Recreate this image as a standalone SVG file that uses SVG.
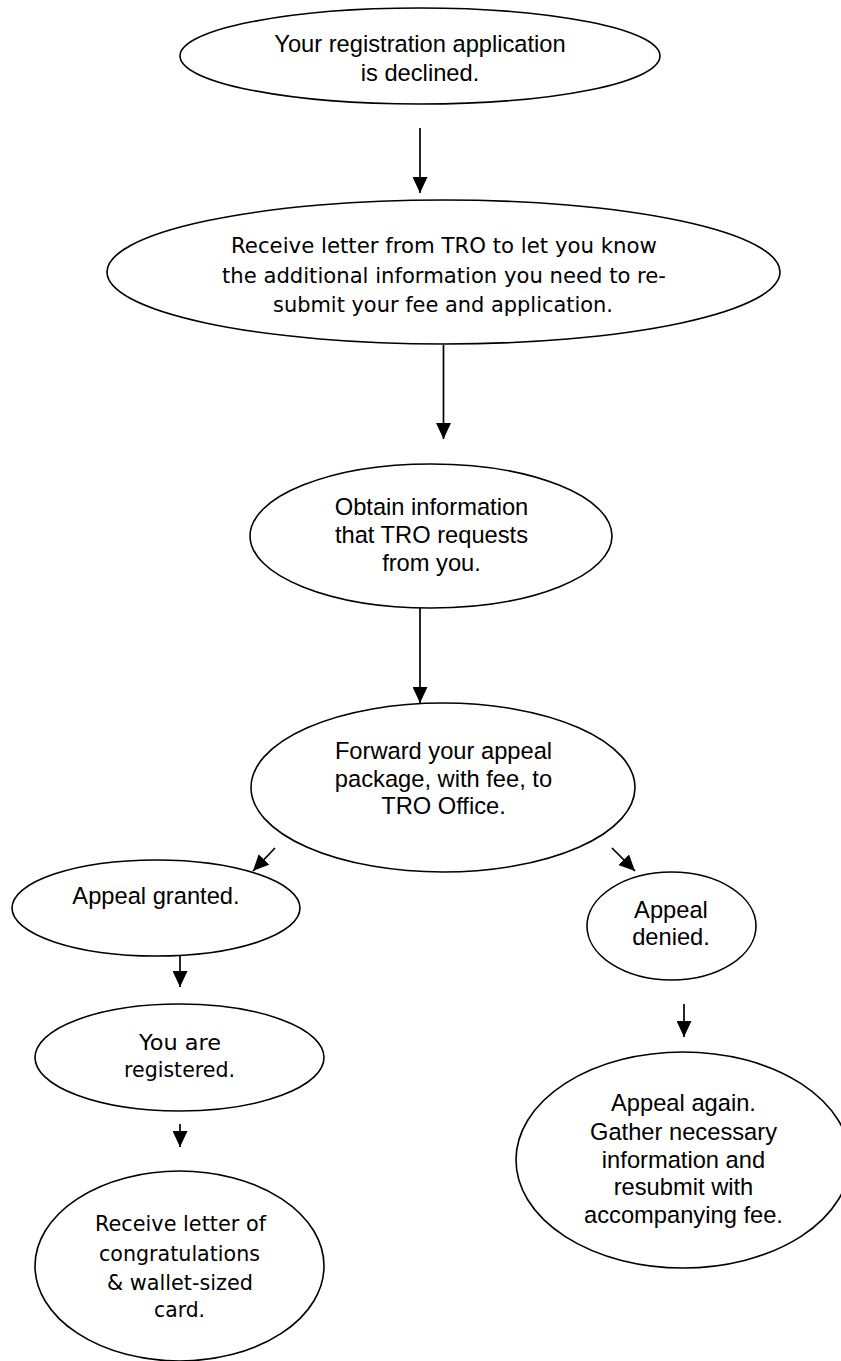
<svg xmlns="http://www.w3.org/2000/svg" width="841" height="1361" viewBox="0 0 841 1361">
<defs>
<style>
.node ellipse{fill:#fff;stroke:#000;stroke-width:1.6}
.a{font-family:"Liberation Sans",Arial,sans-serif;font-size:23.7px;fill:#000;text-anchor:middle}
.t{font-family:"DejaVu Sans",Verdana,sans-serif;font-size:22px;fill:#000;text-anchor:middle}
#connectors line{stroke:#000;stroke-width:1.7;fill:none;marker-end:url(#ah)}
</style>
<marker id="ah" markerUnits="userSpaceOnUse" markerWidth="16" markerHeight="15" refX="16" refY="7.5" orient="auto">
<path d="M0,0 L16,7.5 L0,15 z" fill="#000"/>
</marker>
</defs>
<rect width="841" height="1361" fill="#fff"/>
<g id="connectors">
<line x1="420" y1="128" x2="420" y2="193"/>
<line x1="443.5" y1="345" x2="443.5" y2="439"/>
<line x1="420" y1="608" x2="420" y2="703"/>
<line x1="275" y1="848" x2="253" y2="871"/>
<line x1="612" y1="848" x2="635" y2="871"/>
<line x1="180" y1="956" x2="180" y2="987"/>
<line x1="180" y1="1124" x2="180" y2="1147"/>
<line x1="684" y1="1004" x2="684" y2="1037"/>
</g>
<g id="n1" class="node">
<ellipse cx="420" cy="56" rx="240" ry="48"/>
<text class="a" x="420" y="52">Your registration application</text>
<text class="a" x="420" y="81">is declined.</text>
</g>
<g id="n2" class="node">
<ellipse cx="443.5" cy="272" rx="336.5" ry="72"/>
<text class="t" x="444" y="253" textLength="426" lengthAdjust="spacingAndGlyphs">Receive letter from TRO to let you know</text>
<text class="t" x="444" y="283" textLength="444" lengthAdjust="spacingAndGlyphs">the additional information you need to re-</text>
<text class="t" x="443" y="312" textLength="340" lengthAdjust="spacingAndGlyphs">submit your fee and application.</text>
</g>
<g id="n3" class="node">
<ellipse cx="431" cy="536" rx="181" ry="72"/>
<text class="a" x="431.5" y="515">Obtain information</text>
<text class="a" x="431.5" y="543">that TRO requests</text>
<text class="a" x="431.5" y="571">from you.</text>
</g>
<g id="n4" class="node">
<ellipse cx="443" cy="787.5" rx="192" ry="84.5"/>
<text class="a" x="443.5" y="759">Forward your appeal</text>
<text class="a" x="443.5" y="787">package, with fee, to</text>
<text class="a" x="443.5" y="814">TRO Office.</text>
</g>
<g id="n5" class="node">
<ellipse cx="156" cy="908" rx="144" ry="48"/>
<text class="a" x="156" y="904">Appeal granted.</text>
</g>
<g id="n6" class="node">
<ellipse cx="671.5" cy="926" rx="84.5" ry="54"/>
<text class="a" x="671" y="918">Appeal</text>
<text class="a" x="671" y="945">denied.</text>
</g>
<g id="n7" class="node">
<ellipse cx="179.5" cy="1057.5" rx="144.5" ry="53.5"/>
<text class="t" x="180" y="1050" textLength="82" lengthAdjust="spacingAndGlyphs">You are</text>
<text class="t" x="179.5" y="1077" textLength="111" lengthAdjust="spacingAndGlyphs">registered.</text>
</g>
<g id="n8" class="node">
<ellipse cx="179.5" cy="1266" rx="144.5" ry="95"/>
<text class="t" x="180.5" y="1231" textLength="171" lengthAdjust="spacingAndGlyphs">Receive letter of</text>
<text class="t" x="179.5" y="1261" textLength="161" lengthAdjust="spacingAndGlyphs">congratulations</text>
<text class="t" x="180" y="1290" textLength="146" lengthAdjust="spacingAndGlyphs">&amp; wallet-sized</text>
<text class="t" x="179.5" y="1317" textLength="51" lengthAdjust="spacingAndGlyphs">card.</text>
</g>
<g id="n9" class="node">
<ellipse cx="683" cy="1160" rx="167" ry="108"/>
<text class="a" x="683.5" y="1111">Appeal again.</text>
<text class="a" x="683.5" y="1140">Gather necessary</text>
<text class="a" x="683.5" y="1168">information and</text>
<text class="a" x="683.5" y="1195">resubmit with</text>
<text class="a" x="683.5" y="1223">accompanying fee.</text>
</g>
</svg>
